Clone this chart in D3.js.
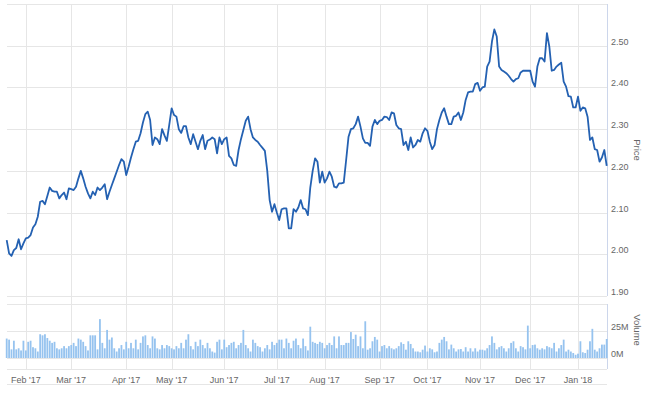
<!DOCTYPE html>
<html>
<head>
<meta charset="utf-8">
<script src="https://cdnjs.cloudflare.com/ajax/libs/d3/7.8.5/d3.min.js"></script>
<style>
	body {
		margin: 0;
		background: #fff;
	}
	text {
		font-family: "Liberation Sans", Arial, sans-serif;
	}
</style>
</head>
<body>
<div id="chart"></div>
<script>
// daily close, Jan 20 2017 - Jan 19 2018 (trading days)
let prices = [
	2.034, 2.002, 1.996, 2.01, 2.015, 2.036, 2.012, 2.026, 2.038, 2.04,
	2.046, 2.064, 2.072, 2.09, 2.126, 2.128, 2.12, 2.14, 2.16, 2.152,
	2.15, 2.15, 2.134, 2.142, 2.148, 2.132, 2.158, 2.156, 2.154, 2.162,
	2.182, 2.2, 2.182, 2.162, 2.146, 2.134, 2.15, 2.142, 2.16, 2.154,
	2.16, 2.168, 2.132, 2.15, 2.166, 2.182, 2.198, 2.214, 2.228, 2.222,
	2.19, 2.21, 2.232, 2.252, 2.27, 2.272, 2.29, 2.316, 2.336, 2.342,
	2.322, 2.262, 2.28, 2.276, 2.264, 2.3, 2.285, 2.272, 2.31, 2.35,
	2.334, 2.33, 2.3, 2.291, 2.307, 2.307, 2.28, 2.264, 2.288, 2.27,
	2.252, 2.272, 2.286, 2.252, 2.272, 2.275, 2.28, 2.276, 2.242, 2.28,
	2.264, 2.276, 2.28, 2.236, 2.23, 2.214, 2.212, 2.25, 2.276, 2.298,
	2.32, 2.33, 2.3, 2.28, 2.274, 2.27, 2.262, 2.255, 2.248, 2.2,
	2.13, 2.102, 2.12, 2.1, 2.082, 2.108, 2.11, 2.11, 2.062, 2.062,
	2.108, 2.102, 2.112, 2.13, 2.11, 2.108, 2.094, 2.16, 2.2, 2.23,
	2.222, 2.172, 2.198, 2.172, 2.182, 2.198, 2.186, 2.162, 2.16, 2.17,
	2.17, 2.172, 2.226, 2.282, 2.3, 2.302, 2.312, 2.33, 2.306, 2.278,
	2.267, 2.267, 2.26, 2.306, 2.322, 2.312, 2.32, 2.322, 2.33, 2.329,
	2.322, 2.34, 2.338, 2.31, 2.302, 2.3, 2.262, 2.27, 2.25, 2.28,
	2.256, 2.262, 2.274, 2.27, 2.29, 2.302, 2.296, 2.27, 2.252, 2.262,
	2.3, 2.322, 2.34, 2.35, 2.33, 2.312, 2.312, 2.33, 2.332, 2.34,
	2.322, 2.34, 2.37, 2.388, 2.39, 2.39, 2.408, 2.411, 2.392, 2.4,
	2.402, 2.45, 2.462, 2.51, 2.539, 2.522, 2.45, 2.442, 2.438, 2.434,
	2.428, 2.42, 2.414, 2.42, 2.422, 2.436, 2.44, 2.44, 2.44, 2.44,
	2.414, 2.402, 2.45, 2.47, 2.47, 2.462, 2.53, 2.498, 2.44, 2.442,
	2.45, 2.455, 2.459, 2.414, 2.402, 2.379, 2.378, 2.352, 2.352, 2.378,
	2.344, 2.352, 2.35, 2.33, 2.274, 2.28, 2.252, 2.25, 2.222, 2.232,
	2.25, 2.212
];

// daily volume, millions
let volumes = [
	18, 17, 8, 16, 8, 9, 7, 16, 7, 15,
	16, 10, 9, 6, 22, 21, 22, 18.5, 16, 14,
	15, 9, 8, 9, 11, 9, 11, 12, 14, 11,
	18, 17, 15, 11, 7, 21, 21, 21, 8, 36,
	14, 9, 26, 17, 19, 9, 6, 9, 12, 8,
	15, 9, 14, 9, 17, 8, 14, 20, 21, 12,
	9, 20, 18, 9, 8, 12, 9, 12, 11, 9,
	8, 11, 9, 14, 9, 17, 22, 11, 8, 15,
	11, 17, 12, 9, 14, 9, 6, 5, 15, 17,
	8, 17, 10, 12, 14, 15, 9, 12, 14, 26,
	12, 9, 6, 17, 14, 11, 10, 6, 9, 12,
	8, 15, 12, 14, 17, 17, 9, 18, 14, 9,
	16, 18, 12, 9, 18, 11, 7, 29, 15, 14,
	13, 15, 14, 9, 12, 14, 12, 20, 9, 20,
	12, 12, 14, 14, 24, 17.6, 21.6, 11, 20, 9,
	34, 7.7, 9, 15.5, 19.5, 17, 6, 11, 12, 9,
	11, 9, 8, 9, 11, 14.5, 13, 7.7, 15.5, 13,
	9, 6, 6, 5.3, 7.7, 11.5, 6, 9, 8, 5.3,
	6, 14, 17, 19.5, 15.5, 8, 12.4, 9, 6, 8,
	8.3, 6, 10, 6, 9, 6, 9, 6, 7.7, 7.7,
	7, 9, 12, 20, 14, 8, 10, 11, 9, 6,
	9, 14, 15.5, 9, 6, 11, 10, 8, 30, 9,
	12, 12.4, 9, 7.7, 9, 8, 11, 10, 9, 14,
	6, 9, 12, 17, 6, 7.7, 6, 4.6, 3, 4,
	15.5, 5.3, 4.6, 7.7, 15.5, 27, 7.7, 6, 9, 12.4,
	12.4, 17.6
];

let startDate = "2017-01-20";
let holidays = [
	"2017-02-20", "2017-04-14", "2017-05-29", "2017-07-04", "2017-09-04",
	"2017-11-23", "2017-12-25", "2018-01-01", "2018-01-15"
];
let priceTicks = [1.9, 2.0, 2.1, 2.2, 2.3, 2.4, 2.5, 2.6];
let volumeTicks = [0, 25, 50];

// trading days
let fmtDay = d3.timeFormat("%Y-%m-%d");
let dates = [];
let day = d3.timeParse("%Y-%m-%d")(startDate);
while (dates.length < prices.length) {
	if (day.getDay() != 0 && day.getDay() != 6 && holidays.indexOf(fmtDay(day)) < 0) {
		dates.push(new Date(day));
	}
	day = d3.timeDay.offset(day, 1);
}

// first trading day of each month
let monthTicks = [];
dates.forEach((d, i) => {
	if (i > 0 && d.getMonth() != dates[i - 1].getMonth()) monthTicks.push(i);
});
let fmtMonth = d3.timeFormat("%b '%y");

var w = 650,
	h = 395;

var x = d3.scaleLinear().domain([0, prices.length - 1]).range([6.7, 606.7]);
var yPrice = d3.scaleLinear().domain([1.9, 2.6]).range([296, 4]);
var yVol = d3.scaleLinear().domain([0, 50]).range([358, 304]);

var svg = d3
	.select("#chart")
	.append("svg")
	.attr("width", w)
	.attr("height", h);

let grid = "#e6e6e6";
let axisLine = "#ccd6eb";
let labelColor = "#666666";

// vertical month grid
svg
	.append("g")
	.selectAll("line")
	.data(monthTicks)
	.enter()
	.append("line")
	.attr("x1", (d) => Math.round(x(d)) + 0.5)
	.attr("x2", (d) => Math.round(x(d)) + 0.5)
	.attr("y1", 4)
	.attr("y2", 369)
	.attr("stroke", grid);

// price grid + labels
svg
	.append("g")
	.selectAll("line")
	.data(priceTicks)
	.enter()
	.append("line")
	.attr("x1", 7)
	.attr("x2", 607)
	.attr("y1", (d) => Math.round(yPrice(d)) + 0.5)
	.attr("y2", (d) => Math.round(yPrice(d)) + 0.5)
	.attr("stroke", grid);

svg
	.append("g")
	.selectAll("text")
	.data(priceTicks.slice(0, -1))
	.enter()
	.append("text")
	.attr("x", 611)
	.attr("y", (d) => yPrice(d) - 1)
	.attr("font-size", 9)
	.attr("fill", labelColor)
	.text((d) => d.toFixed(2));

// volume grid + labels
svg
	.append("g")
	.selectAll("line")
	.data(volumeTicks)
	.enter()
	.append("line")
	.attr("x1", 7)
	.attr("x2", 607)
	.attr("y1", (d) => Math.round(yVol(d)) + 0.5)
	.attr("y2", (d) => Math.round(yVol(d)) + 0.5)
	.attr("stroke", grid);

svg
	.append("g")
	.selectAll("text")
	.data(volumeTicks.slice(0, -1))
	.enter()
	.append("text")
	.attr("x", 611)
	.attr("y", (d) => yVol(d) - 1)
	.attr("font-size", 9)
	.attr("fill", labelColor)
	.text((d) => d + "M");

// bottom lines
svg.append("line").attr("x1", 7).attr("x2", 607).attr("y1", 369.5).attr("y2", 369.5).attr("stroke", grid);
svg.append("line").attr("x1", 7).attr("x2", 607).attr("y1", 384.5).attr("y2", 384.5).attr("stroke", grid);

// right axis lines
svg.append("line").attr("x1", 607.5).attr("x2", 607.5).attr("y1", 4).attr("y2", 296).attr("stroke", axisLine);
svg.append("line").attr("x1", 607.5).attr("x2", 607.5).attr("y1", 304).attr("y2", 369).attr("stroke", axisLine);

// volume bars
svg
	.append("g")
	.selectAll("rect")
	.data(volumes)
	.enter()
	.append("rect")
	.attr("x", (d, i) => x(i) - 0.9)
	.attr("y", (d) => yVol(d))
	.attr("width", 1.8)
	.attr("height", (d) => yVol(0) - yVol(d))
	.attr("fill", "#96c3ef");

// price line
var line = d3
	.line()
	.x((d, i) => x(i))
	.y((d) => yPrice(d));

svg
	.append("path")
	.datum(prices)
	.attr("d", line)
	.attr("fill", "none")
	.attr("stroke", "#2461b2")
	.attr("stroke-width", 1.8)
	.attr("stroke-linejoin", "round");

// month labels
svg
	.append("g")
	.selectAll("text")
	.data(monthTicks)
	.enter()
	.append("text")
	.attr("x", (d) => x(d))
	.attr("y", 383)
	.attr("text-anchor", "middle")
	.attr("font-size", 9)
	.attr("fill", labelColor)
	.text((d) => fmtMonth(dates[d]));

// axis titles
svg
	.append("text")
	.attr("transform", "translate(634,150) rotate(90)")
	.attr("text-anchor", "middle")
	.attr("font-size", 9.5)
	.attr("fill", labelColor)
	.text("Price");

svg
	.append("text")
	.attr("transform", "translate(634,330) rotate(90)")
	.attr("text-anchor", "middle")
	.attr("font-size", 9.5)
	.attr("fill", labelColor)
	.text("Volume");
</script>
</body>
</html>
